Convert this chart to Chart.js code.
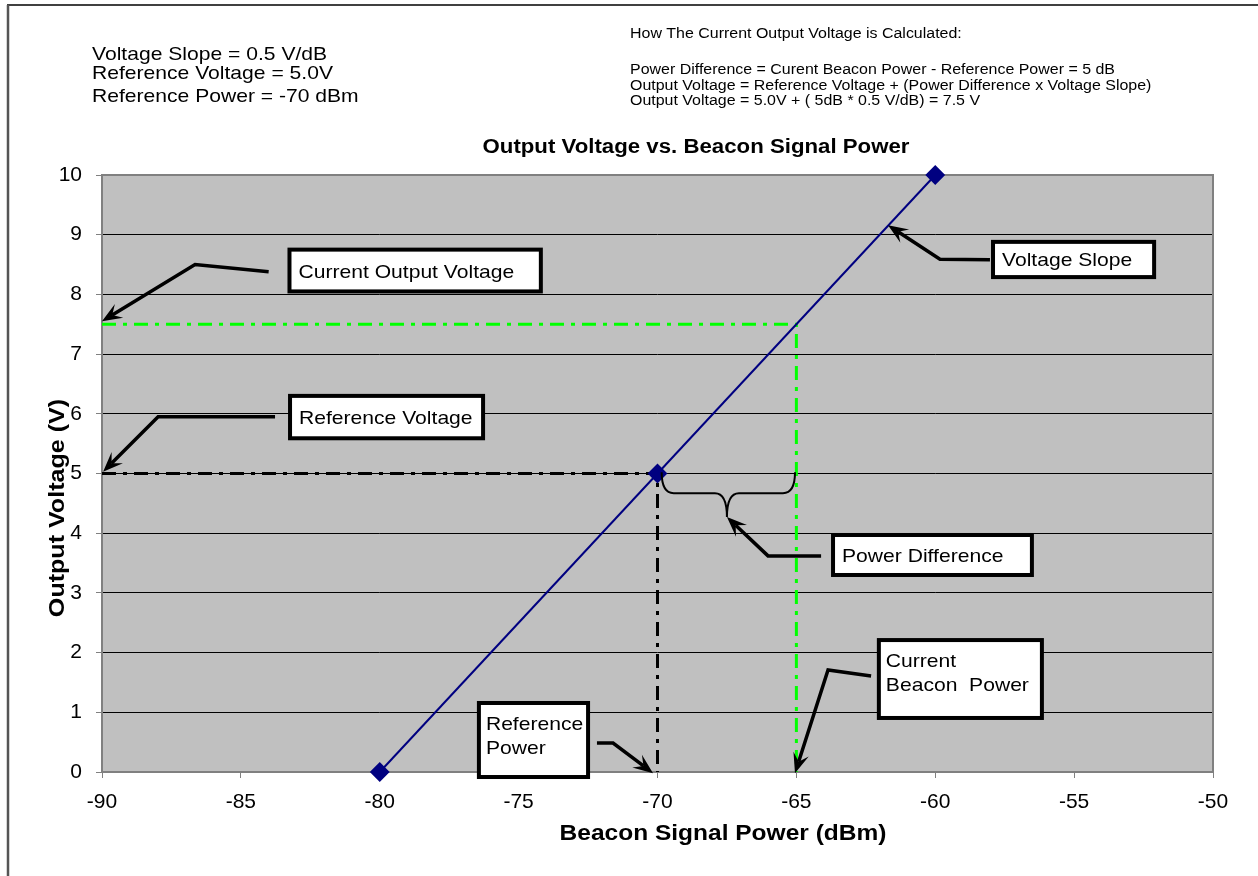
<!DOCTYPE html>
<html>
<head>
<meta charset="utf-8">
<script src="https://cdn.jsdelivr.net/npm/chart.js"></script>
<style>
  body { margin: 0; background: #fff; }
  canvas { display: block; }
</style>
</head>
<body>
<canvas id="myChart" width="1258" height="876"></canvas>
<script>
// data
const powerDbm = [-80, -70, -60];
const outputVolts = [0, 5, 10];
const currentPowerX = [-90, -65, -65];
const currentPowerY = [7.5, 7.5, 0];
const refPowerX = [-90, -70, -70];
const refPowerY = [5, 5, 0];
const xMin = -90, xMax = -50, xStep = 5;
const yMin = 0, yMax = 10, yStep = 1;

const toPoints = (xs, ys) => xs.map((x, i) => ({x: x, y: ys[i]}));

const FONT = "'Liberation Sans', Arial, sans-serif";
const STRETCH = 1.14; // the original text is drawn a bit wide

// callout boxes + arrows, positioned in data units
const callouts = [
    {lines: ['Current Output Voltage'], box: [-83.25, 8.75, -74.2, 8.05],
     arrow: [[-84.0, 8.38], [-86.65, 8.5], [-90, 7.55]]},
    {lines: ['Voltage Slope'], box: [-57.92, 8.88, -52.12, 8.29],
     arrow: [[-58.03, 8.58], [-59.83, 8.59], [-61.7, 9.16]]},
    {lines: ['Reference Voltage'], box: [-83.23, 6.3, -76.28, 5.59],
     arrow: [[-83.77, 5.95], [-87.98, 5.95], [-89.96, 5.03]]},
    {lines: ['Power Difference'], box: [-63.68, 3.97, -56.52, 3.3],
     arrow: [[-64.11, 3.62], [-66.02, 3.62], [-67.5, 4.27]]},
    {lines: ['Reference', 'Power'], box: [-76.43, 1.156, -72.5, -0.084],
     arrow: [[-72.18, 0.486], [-71.6, 0.486], [-70.16, -0.02]]},
    {lines: ['Current', 'Beacon  Power'], box: [-62.03, 2.21, -56.16, 0.905],
     arrow: [[-62.31, 1.608], [-63.86, 1.709], [-65.05, -0.02]]}
];

function wideText(c, text, x, y, font, align) {
    c.save();
    c.translate(x, y);
    c.scale(STRETCH, 1);
    c.font = font;
    c.textAlign = align || 'left';
    c.fillText(text, 0, 0);
    c.restore();
}

function arrowHead(c, x0, y0, x1, y1) {
    const a = Math.atan2(y1 - y0, x1 - x0);
    const len = 20, half = 8, notch = 12;
    c.beginPath();
    c.moveTo(x1, y1);
    c.lineTo(x1 - len * Math.cos(a) + half * Math.sin(a), y1 - len * Math.sin(a) - half * Math.cos(a));
    c.lineTo(x1 - notch * Math.cos(a), y1 - notch * Math.sin(a));
    c.lineTo(x1 - len * Math.cos(a) - half * Math.sin(a), y1 - len * Math.sin(a) + half * Math.cos(a));
    c.closePath();
    c.fill();
}

const decorPlugin = {
    id: 'decor',
    beforeDraw(chart) {
        const c = chart.ctx, a = chart.chartArea;
        c.save();
        c.fillStyle = '#fff';
        c.fillRect(0, 0, chart.width, chart.height);
        c.fillStyle = '#c0c0c0';
        c.fillRect(a.left, a.top, a.right - a.left, a.bottom - a.top);
        c.restore();
    },
    beforeDatasetsDraw(chart) {
        const c = chart.ctx, a = chart.chartArea;
        c.save();
        c.strokeStyle = '#808080';
        c.lineWidth = 2;
        c.strokeRect(a.left, a.top, a.right - a.left, a.bottom - a.top);
        c.restore();
    },
    afterDraw(chart) {
        const c = chart.ctx, a = chart.chartArea;
        const sx = chart.scales.x, sy = chart.scales.y;
        const px = v => sx.getPixelForValue(v), py = v => sy.getPixelForValue(v);
        c.save();

        // outer frame
        c.strokeStyle = '#000';
        c.lineWidth = 1.5;
        c.beginPath(); c.moveTo(7, 5); c.lineTo(chart.width, 5); c.stroke();
        c.strokeStyle = '#555';
        c.lineWidth = 2.5;
        c.beginPath(); c.moveTo(8, 5); c.lineTo(8, chart.height); c.stroke();

        // header notes
        c.fillStyle = '#000';
        c.textBaseline = 'alphabetic';
        const f1 = '18.5px ' + FONT;
        wideText(c, 'Voltage Slope = 0.5 V/dB', 92, 60, f1);
        wideText(c, 'Reference Voltage = 5.0V', 92, 79, f1);
        wideText(c, 'Reference Power = -70 dBm', 92, 102, f1);
        const f2 = '14px ' + FONT;
        wideText(c, 'How The Current Output Voltage is Calculated:', 630, 38, f2);
        wideText(c, 'Power Difference = Curent Beacon Power - Reference Power = 5 dB', 630, 74, f2);
        wideText(c, 'Output Voltage = Reference Voltage + (Power Difference x Voltage Slope)', 630, 90, f2);
        wideText(c, 'Output Voltage = 5.0V + ( 5dB * 0.5 V/dB) = 7.5 V', 630, 105, f2);

        // titles
        c.textBaseline = 'middle';
        wideText(c, 'Output Voltage vs. Beacon Signal Power', 696, 148, 'bold 19.5px ' + FONT, 'center');
        wideText(c, 'Beacon Signal Power (dBm)', 723, 834, 'bold 21.5px ' + FONT, 'center');
        c.save();
        c.translate(58, 508);
        c.rotate(-Math.PI / 2);
        wideText(c, 'Output Voltage (V)', 0, 0, 'bold 22px ' + FONT, 'center');
        c.restore();

        // brace for power difference
        const L = px(-69.85), R = px(-65.05), C = px(-67.5);
        const top = py(5.02), mid = py(4.67), tip = py(4.27);
        c.strokeStyle = '#000';
        c.lineWidth = 2;
        c.beginPath();
        c.moveTo(L, top);
        c.quadraticCurveTo(L, mid, L + 12, mid);
        c.lineTo(C - 12, mid);
        c.quadraticCurveTo(C, mid, C, tip);
        c.quadraticCurveTo(C, mid, C + 12, mid);
        c.lineTo(R - 12, mid);
        c.quadraticCurveTo(R, mid, R, top);
        c.stroke();

        // callouts
        callouts.forEach(co => {
            const pts = co.arrow.map(p => [px(p[0]), py(p[1])]);
            c.strokeStyle = '#000';
            c.fillStyle = '#000';
            c.lineWidth = 3.5;
            const n = pts.length;
            const a0 = pts[n - 2], a1 = pts[n - 1];
            const ang = Math.atan2(a1[1] - a0[1], a1[0] - a0[0]);
            c.beginPath();
            c.moveTo(pts[0][0], pts[0][1]);
            for (let i = 1; i < n - 1; i++) c.lineTo(pts[i][0], pts[i][1]);
            c.lineTo(a1[0] - 12 * Math.cos(ang), a1[1] - 12 * Math.sin(ang));
            c.stroke();
            arrowHead(c, a0[0], a0[1], a1[0], a1[1]);

            const x1 = px(co.box[0]), y1 = py(co.box[1]);
            const x2 = px(co.box[2]), y2 = py(co.box[3]);
            c.fillStyle = '#fff';
            c.fillRect(x1, y1, x2 - x1, y2 - y1);
            c.lineWidth = 4;
            c.strokeRect(x1, y1, x2 - x1, y2 - y1);
            c.fillStyle = '#000';
            c.textBaseline = 'alphabetic';
            const fb = '18.5px ' + FONT;
            if (co.lines.length === 1) {
                wideText(c, co.lines[0], x1 + 9, (y1 + y2) / 2 + 7, fb);
            } else {
                co.lines.forEach((t, i) => wideText(c, t, x1 + 7, y1 + 27 + i * 24, fb));
            }
        });
        c.restore();
    }
};

const ctx = document.getElementById('myChart').getContext('2d');
const myChart = new Chart(ctx, {
    type: 'scatter',
    data: {
        datasets: [{
            label: 'Output Voltage',
            data: toPoints(powerDbm, outputVolts),
            showLine: true,
            borderColor: '#000080',
            backgroundColor: '#000080',
            borderWidth: 2,
            pointStyle: 'rectRot',
            pointRadius: 8.5,
            pointHoverRadius: 8.5,
            clip: false
        }, {
            label: 'Reference',
            data: toPoints(refPowerX, refPowerY),
            showLine: true,
            borderColor: '#000',
            borderWidth: 3,
            borderDash: [14, 7, 4, 7],
            pointRadius: 0
        }, {
            label: 'Current',
            data: toPoints(currentPowerX, currentPowerY),
            showLine: true,
            borderColor: '#00ff00',
            borderWidth: 3,
            borderDash: [14, 7, 4, 7],
            pointRadius: 0
        }]
    },
    options: {
        responsive: false,
        animation: false,
        layout: {
            padding: {left: 0, top: 175, right: 45, bottom: 0}
        },
        plugins: {
            legend: {display: false},
            tooltip: {enabled: false}
        },
        scales: {
            x: {
                type: 'linear',
                min: xMin,
                max: xMax,
                afterFit: s => { s.height = 104; },
                ticks: {
                    stepSize: xStep,
                    color: '#000',
                    padding: 12,
                    font: {family: FONT, size: 21}
                },
                grid: {
                    drawOnChartArea: false,
                    drawTicks: true,
                    tickLength: 6,
                    tickColor: '#808080'
                },
                border: {display: false}
            },
            y: {
                type: 'linear',
                min: yMin,
                max: yMax,
                afterFit: s => { s.width = 102; },
                ticks: {
                    stepSize: yStep,
                    color: '#000',
                    padding: 14,
                    font: {family: FONT, size: 21}
                },
                grid: {
                    color: '#000',
                    lineWidth: 1,
                    tickLength: 6,
                    tickColor: '#808080'
                },
                border: {display: false}
            }
        }
    },
    plugins: [decorPlugin]
});
</script>
</body>
</html>
